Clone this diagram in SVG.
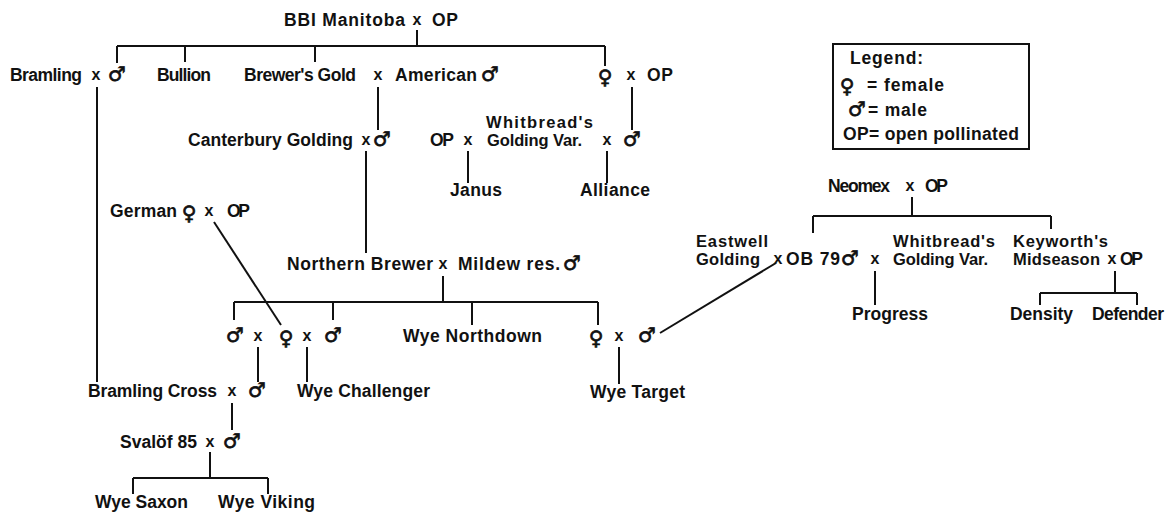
<svg xmlns="http://www.w3.org/2000/svg" width="1171" height="513" viewBox="0 0 1171 513">
<style>
text{font-family:"Liberation Sans",Arial,sans-serif;font-weight:bold;font-size:17.5px;fill:#111}
.m{font-size:16.5px}
.s{font-family:"DejaVu Sans",sans-serif;font-weight:bold;font-size:20px;text-anchor:middle;stroke:#111;stroke-width:0.7}
.x{text-anchor:middle;font-size:16px}
#connectors path{stroke:#111;stroke-width:2;fill:none}
</style>
<rect width="1171" height="513" fill="#fff"/>
<g id="connectors">
<path d="M417,30V46M117,46H605M117,46V63M185,46V62M315,46V62M605,46V66"/>
<path d="M97,87V382M378,87V130M366,151V253M632,87V130M468,151V183M607,151V183"/>
<path d="M214,222L281,325"/>
<path d="M443,276V302M234,302H598M234,302V320M333,302V320M472,302V325M598,302V325"/>
<path d="M258,347V382M307,347V382M619,347V384"/>
<path d="M232,403V430M210,452V478M133,478H268M133,478V494M268,478V494"/>
<path d="M912,197V216M813,216H1051M813,216V233M1051,216V229"/>
<path d="M875,271V305M1115,271V293M1040,293H1137M1040,293V305M1137,293V305"/>
<path d="M776,263L660,333"/>
</g>
<g id="bbi-manitoba"><text x="284" y="26" textLength="121">BBI Manitoba</text><text class="x" x="417" y="25">x</text><text x="432" y="26" textLength="26">OP</text></g>
<g id="bramling"><text x="10" y="81" textLength="72">Bramling</text><text class="x" x="96" y="80">x</text><text class="s" x="117" y="81">♂</text></g>
<g id="bullion"><text x="157" y="81" textLength="54">Bullion</text></g>
<g id="brewers-gold"><text x="244" y="81" textLength="112">Brewer's Gold</text><text class="x" x="378" y="80">x</text><text x="395" y="81" textLength="82">American</text><text class="s" x="490" y="81">♂</text></g>
<g id="female-op"><text class="s" x="605" y="84">♀</text><text class="x" x="631" y="80">x</text><text x="647" y="81" textLength="26">OP</text></g>
<g id="canterbury"><text x="188" y="146" textLength="165">Canterbury Golding</text><text class="x" x="366" y="145">x</text><text class="s" x="382" y="146">♂</text></g>
<g id="whitbread-1"><text x="430" y="146" textLength="24">OP</text><text class="x" x="468" y="145">x</text><text class="m" x="486" y="128" textLength="107">Whitbread's</text><text class="m" x="487" y="146" textLength="95">Golding Var.</text><text class="x" x="607" y="145">x</text><text class="s" x="632" y="146">♂</text></g>
<g id="janus"><text x="450" y="196" textLength="52">Janus</text></g>
<g id="alliance"><text x="580" y="196" textLength="70">Alliance</text></g>
<g id="legend"><rect x="833" y="44" width="196" height="105" fill="none" stroke="#111" stroke-width="2"/><text x="850" y="64" textLength="73">Legend:</text><text class="s" x="847" y="93">♀</text><text x="867" y="91" textLength="77">= female</text><text class="s" x="857" y="116">♂</text><text x="868" y="116" textLength="59">= male</text><text x="843" y="140" textLength="176">OP= open pollinated</text></g>
<g id="german"><text x="110" y="217" textLength="67">German</text><text class="s" x="189" y="220">♀</text><text class="x" x="209" y="216">x</text><text x="227" y="217" textLength="23">OP</text></g>
<g id="northern-brewer"><text x="287" y="270" textLength="146">Northern Brewer</text><text class="x" x="443" y="269">x</text><text x="458" y="270" textLength="102">Mildew res.</text><text class="s" x="572" y="270">♂</text></g>
<g id="cross-a"><text class="s" x="235" y="342">♂</text><text class="x" x="258" y="341">x</text><text class="s" x="286" y="345">♀</text><text class="x" x="307" y="341">x</text><text class="s" x="333" y="342">♂</text></g>
<g id="wye-northdown"><text x="403" y="342" textLength="139">Wye Northdown</text></g>
<g id="cross-b"><text class="s" x="596" y="345">♀</text><text class="x" x="619" y="341">x</text><text class="s" x="647" y="342">♂</text></g>
<g id="bramling-cross"><text x="88" y="397" textLength="129">Bramling Cross</text><text class="x" x="232" y="396">x</text><text class="s" x="257" y="397">♂</text></g>
<g id="wye-challenger"><text x="297" y="397" textLength="133">Wye Challenger</text></g>
<g id="wye-target"><text x="590" y="398" textLength="95">Wye Target</text></g>
<g id="svalof"><text x="120" y="448" textLength="77">Svalöf 85</text><text class="x" x="210" y="447">x</text><text class="s" x="232" y="448">♂</text></g>
<g id="wye-saxon"><text x="95" y="508" textLength="93">Wye Saxon</text></g>
<g id="wye-viking"><text x="218" y="508" textLength="97">Wye Viking</text></g>
<g id="neomex"><text x="828" y="192" textLength="62">Neomex</text><text class="x" x="910" y="191">x</text><text x="925" y="192" textLength="23">OP</text></g>
<g id="ob79"><text class="m" x="696" y="247" textLength="72">Eastwell</text><text class="m" x="696" y="265" textLength="64">Golding</text><text class="x" x="778" y="264">x</text><text x="786" y="265" textLength="54">OB 79</text><text class="s" x="850" y="265">♂</text><text class="x" x="875" y="264">x</text><text class="m" x="893" y="247" textLength="102">Whitbread's</text><text class="m" x="893" y="265" textLength="95">Golding Var.</text></g>
<g id="keyworth"><text class="m" x="1013" y="247" textLength="95">Keyworth's</text><text class="m" x="1013" y="265" textLength="87">Midseason</text><text class="x" x="1112" y="264">x</text><text x="1120" y="265" textLength="23">OP</text></g>
<g id="progress"><text x="852" y="320" textLength="76">Progress</text></g>
<g id="density"><text x="1010" y="320" textLength="63">Density</text></g>
<g id="defender"><text x="1092" y="320" textLength="72">Defender</text></g>
</svg>
